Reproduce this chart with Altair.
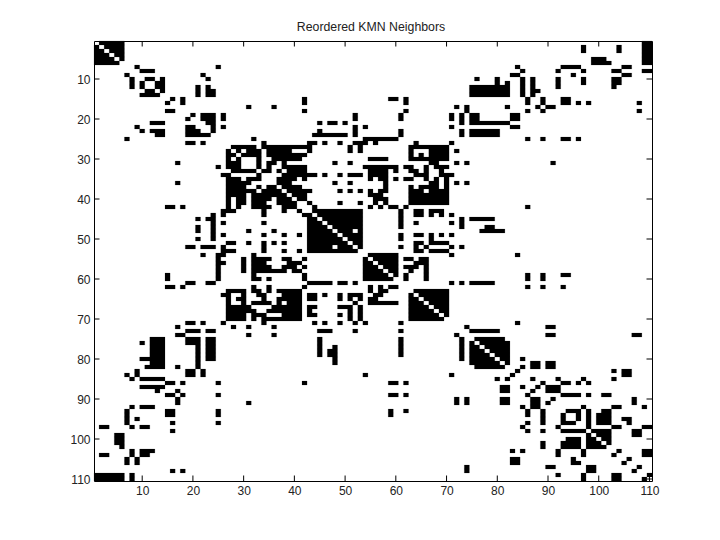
import altair as alt
import pandas as pd

TITLE = "Reordered KMN Neighbors"
N = 110
TICKS = [10, 20, 30, 40, 50, 60, 70, 80, 90, 100, 110]

# Upper triangle of the symmetric matrix: row -> neighbouring columns
UPPER = {
 1: "2-6 109-110", 2: "3-6 97 104 109-110", 3: "4-6 97 104 109-110", 4: "5-6 109-110",
 5: "6 99-101 109-110", 6: "99-102 109-110",
 7: "9 25 84 93-96 105-106",
 8: "10-12 85 92 97 103-104 109-110",
 9: "22 83-84 95 105-106",
 10: "11-12 14 23 76 80 85 87 92 97 103-104",
 11: "13-14 80 82 85 87 92 97 103-104",
 12: "13-14 21 23 75-82 85 87 92 103",
 13: "14 21 23-24 75-82 85 87-88",
 14: "21 23-24 75-82 85 87",
 15: "16 18 42 59-60 62 86 89 93-94",
 16: "18 42 62 86 89 93-94 96 98 108",
 17: "31 36 72 74 82 88 90-91",
 18: "42 62 74 86 89 108",
 19: "20 22-24 26 52 61 71 73 75-76 83-84",
 20: "22-24 26 52 61 71 73 75-76 83-84",
 21: "23-24 45 47-48 50 73 75-82",
 22: "24 26 52 54 71 83-84",
 23: "24 45 52 61 73 75-80",
 24: "44-50 52 61 73 75-80",
 25: "32 54-60 86 89 93-94 96",
 26: "34 43-44 46 49 52-54 56 64 71",
 27: "28-32 34-43 51 53 63-70",
 28: "29 31-33 35-39 43 51 53 63 67-70 72",
 29: "30-33 35-42 63 65 67-70",
 30: "33 36-41 55-58 63-70",
 31: "33 35-36 38 48 51 67-68 72 74 91",
 32: "33 35 38-42 54-60 62-63 66 68-70",
 33: "34-35 37 39-42 55-58 60 63-64 66 69",
 34: "38-44 46 49 51-53 55-58 64-66 69-71",
 35: "37-40 42 55 57-58 60 62-63 66 68 70",
 36: "37-39 48 51 58 67-68 70 72 74",
 37: "38-41 58 63 65-68 70",
 38: "39-43 49 51 53 55 57-58 63-65 67-70",
 39: "40-42 55-57 63-70",
 40: "41-42 56-58 63-70",
 41: "43 49 53 56 58 63-70",
 42: "44 55 57 59-60 62 86",
 43: "44-53 61 64-65 67-69",
 44: "45-53 61 64-65 67 69 71",
 45: "46-53 61 73 75-79",
 46: "47-53 61 64 71 73",
 47: "48-53 61 73 78-79",
 48: "49-51 53 77-81",
 49: "50-53 61 64-65 67 69 71",
 50: "51-53 61 67",
 51: "52-53 64-65 67-70",
 52: "53 61 64 66 71 73",
 53: "64-65 67-70",
 54: "55-60 71 84",
 55: "56-60 62-63 65-66",
 56: "57-60 64-66",
 57: "58-60 62-64 66",
 58: "59-60 63 66",
 59: "60 62 66 86 89 93-94",
 60: "62 66 86 89",
 61: "71 73 75-79",
 62: "86 89 93",
 63: "64-70", 64: "65-70", 65: "66-70", 66: "67-70", 67: "68-70", 68: "69-70", 69: "70",
 71: "84",
 72: "74 90-91",
 73: "75-80",
 74: "90-91 107-108",
 75: "76-81",
 76: "77-82", 77: "78-82", 78: "79-82", 79: "80-82", 80: "81-82 85", 81: "82 87-88 90-91",
 82: "85 87-88 90-91",
 83: "84 103 105-106",
 84: "105-106",
 85: "87 92 97 103",
 86: "89 93-94 96 98",
 87: "88 90-92",
 88: "90-92",
 89: "93-96 98 101-102",
 90: "91 107",
 91: "107",
 92: "97 103-104 109",
 93: "94-96 98 101-102",
 94: "96 98 100-102",
 95: "96 98 100-102 105-106",
 96: "98 100-102 106",
 97: "98 103-104 109-110",
 98: "99-102 107-108",
 99: "100-102 107-108",
 100: "101-102",
 101: "102",
 103: "104 109-110",
 104: "109-110",
 105: "106",
 107: "108",
 109: "110",
}


def expand(spec):
    out = []
    for part in spec.split():
        if "-" in part:
            a, b = part.split("-")
            out.extend(range(int(a), int(b) + 1))
        else:
            out.append(int(part))
    return out


cells = {r: set() for r in range(1, N + 1)}
for row, spec in UPPER.items():
    for col in expand(spec):
        cells[row].add(col)
        cells[col].add(row)

records = []
for row, cols in cells.items():
    ordered = sorted(cols)
    i = 0
    while i < len(ordered):
        j = i
        while j + 1 < len(ordered) and ordered[j + 1] == ordered[j] + 1:
            j += 1
        records.append({"row": row - 0.5, "row2": row + 0.5,
                        "c1": ordered[i] - 0.5, "c2": ordered[j] + 0.5})
        i = j + 1
df = pd.DataFrame(records)
tick_df = pd.DataFrame({"t": TICKS})

W, H = 558, 440
FONT = "Liberation Sans"
xs = alt.Scale(domain=[0.5, N + 0.5], nice=False, zero=False)
ys = alt.Scale(domain=[0.5, N + 0.5], nice=False, zero=False, reverse=True)
ax = alt.Axis(values=TICKS, title=None, grid=False, domain=False, ticks=False,
              labelPadding=4, labelFont=FONT, labelFontSize=12,
              labelColor="#222222", labelFlush=False, labelOverlap=False)

cellsL = alt.Chart(df).mark_rect(color="black", stroke="black", strokeWidth=0.15).encode(
    x=alt.X("c1:Q", scale=xs, axis=ax),
    x2="c2:Q",
    y=alt.Y("row:Q", scale=ys, axis=ax),
    y2="row2:Q",
)

bt = alt.Chart(tick_df).mark_rule(color="black").encode(
    x=alt.X("t:Q", scale=xs, axis=ax), y=alt.value(H), y2=alt.value(H - 5.5))
tt = alt.Chart(tick_df).mark_rule(color="black").encode(
    x=alt.X("t:Q", scale=xs, axis=ax), y=alt.value(0), y2=alt.value(5.5))
lt = alt.Chart(tick_df).mark_rule(color="black").encode(
    y=alt.Y("t:Q", scale=ys, axis=ax), x=alt.value(0), x2=alt.value(5.5))
rt = alt.Chart(tick_df).mark_rule(color="black").encode(
    y=alt.Y("t:Q", scale=ys, axis=ax), x=alt.value(W), x2=alt.value(W - 5.5))

chart = (
    alt.layer(cellsL, bt, tt, lt, rt)
    .properties(
        width=W, height=H,
        title=alt.TitleParams(TITLE, font=FONT, fontSize=12.3, fontWeight="normal",
                              color="#222222", anchor="middle", offset=7, dx=-2),
        padding={"left": 86, "top": 33, "right": 60, "bottom": 50},
        autosize=alt.AutoSizeParams(type="none"),
        background="white",
    )
    .configure_view(stroke="black", strokeWidth=1)
)

chart.save("out.html", embed_options={"renderer": "svg", "actions": False})
